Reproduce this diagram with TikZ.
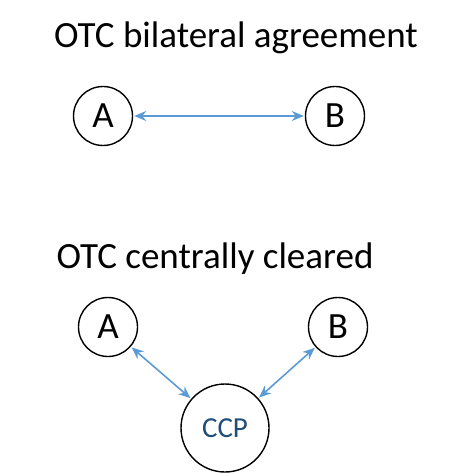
\documentclass[tikz,border=0pt]{standalone}
\usepackage{fontspec}
\setmainfont{Carlito}
\usetikzlibrary{arrows.meta}
\definecolor{arrowblue}{HTML}{5B9BD5}
\definecolor{ccpblue}{HTML}{1F4E79}
\begin{document}
\begin{tikzpicture}[
    x=1pt, y=-1pt,
    party/.style={circle, draw, line width=1.4pt, minimum size=59pt, inner sep=0pt, font=\fontsize{37}{37}\selectfont},
    title/.style={font=\fontsize{37}{37}\selectfont},
    link/.style={<->, >={Stealth[length=12pt, width=10pt]}, draw=arrowblue, line width=1.6pt, shorten <=1pt, shorten >=1pt}
]
\useasboundingbox (0,0) rectangle (456,473);
% Bilateral
\node[title] (bilTitle) at (236, 38) {OTC bilateral agreement};
\node[party] (bilA) at (103, 116) {A};
\node[party] (bilB) at (335, 116) {B};
\draw[link] (bilA) -- (bilB);

% Centrally cleared
\node[title] (ccTitle) at (215, 259) {OTC centrally cleared};
\node[party] (ccA) at (108, 327) {A};
\node[party] (ccB) at (338, 327) {B};
\node[party, minimum size=88pt, text=ccpblue, font=\fontsize{29}{29}\selectfont] (ccp) at (225, 428) {CCP};
\draw[link] (ccA) -- (ccp);
\draw[link] (ccB) -- (ccp);

\end{tikzpicture}
\end{document}
